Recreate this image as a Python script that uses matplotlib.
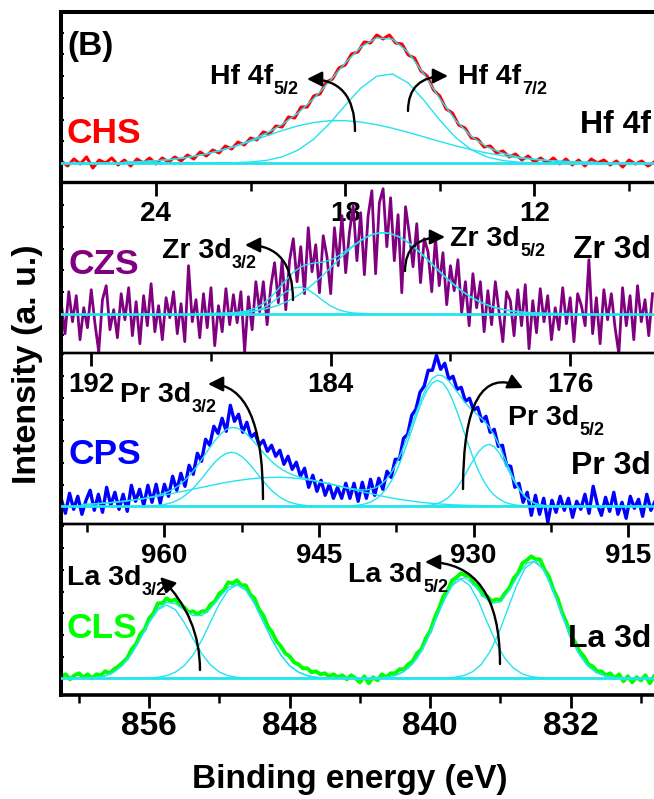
import numpy as np
import matplotlib
matplotlib.use('Agg')
import matplotlib.pyplot as plt
from matplotlib.patches import FancyArrowPatch
from matplotlib.ticker import MultipleLocator

# ---------------- data (heights in a.u., baseline = 0) ----------------
# CHS  - Hf 4f
hf_raw_start, hf_raw_step = 27.0, 0.2
hf_raw = [2, -3, 4, -1, 6, -5, 3, 0, 5, -2, 3, -3, 4, 0, 5, -1, 5, 1, 6, 2,
          8, 4, 11, 7, 13, 10, 17, 14, 21, 18, 25, 23, 31, 29, 37, 36, 46, 45, 56, 56,
          67, 69, 81, 84, 95, 98, 109, 111, 121, 120, 128, 124, 128, 120, 119, 108, 105, 92, 87, 73,
          67, 54, 50, 38, 35, 25, 24, 16, 17, 10, 12, 6, 9, 3, 7, 1, 5, 0, 5, -1,
          4, -2, 3, -3, 4, 0, 3, -2, 2, -4, 3, -1, 2, -3, 1]
hf_fit_start, hf_fit_step = 25.0, 0.5
hf_f72 = [0, 0, 0, 0, 0, 0, 0.1, 0.3, 1.0, 2.6, 6.1, 12.8, 23.8, 39.3, 57.6, 75.1, 86.8, 89.0,
          80.0, 62.6, 42.8, 25.5, 13.2, 6.0, 2.4, 0.8, 0.3, 0.1, 0, 0, 0]
hf_f52 = [0.7, 1.3, 2.2, 3.6, 5.6, 8.4, 12.1, 16.5, 21.6, 27.1, 32.4, 37.1, 40.5, 42.3, 42.3,
          40.9, 38.3, 34.8, 30.6, 26.1, 21.5, 17.2, 13.3, 10.0, 7.2, 5.1, 3.5, 2.3, 1.5, 0.9, 0.5]
hf_env = [0.7, 1.3, 2.2, 3.6, 5.6, 8.4, 12.2, 16.8, 22.6, 29.7, 38.5, 49.9, 64.3, 81.6, 99.9,
          116.0, 125.1, 123.8, 110.6, 88.7, 64.3, 42.7, 26.5, 16.0, 9.6, 5.9, 3.8, 2.4, 1.5, 0.9, 0.5]

# CZS  - Zr 3d
zr_raw_start, zr_raw_step = 193.0, 0.125
zr_raw = [10, -20, 22, -8, 18, -26, 6, -14, 24, -10,
          -38, 14, 28, -16, 4, -24, 20, -6, 26, -22,
          12, -30, 18, -12, 30, -18, 8, -26, 16, -4,
          22, -20, 10, -28, 48, -8, 14, -24, 20, -14,
          26, -32, 8, -18, 25, -11, 19, -9, 22, -38,
          17, -16, 32, 2, 32, -11, 27, 51, 11, 53,
          4, 53, 75, 32, 67, 20, 86, 42, 69, 21,
          78, 57, 20, 86, 48, 98, 41, 81, 108, 53,
          101, 39, 98, 123, 40, 111, 125, 67, 116, 53,
          99, 21, 107, 80, 47, 90, 31, 75, 62, 22,
          76, 28, 61, 9, 48, 23, 54, 1, 32, -12,
          40, 6, 32, -18, 23, -11, 32, 1, -28, 22,
          13, -22, 24, -12, 29, -35, 13, -19, 25, -8,
          18, -26, 6, -16, 26, -10, 16, -28, 20, 8,
          -12, 54, -20, 16, -30, 24, -6, 20, -14, -40,
          26, -12, 18, -26, 28, -8, 14, -22, 20]
zr_fit_start, zr_fit_step = 188.5, 0.25
zr_f52 = [0.1, 0.1, 0.2, 0.3, 0.5, 0.8, 1.3, 2.0, 2.9, 4.3, 6.1, 8.5, 11.6, 15.5, 20.2, 25.7,
          32.0, 38.8, 46.1, 53.6, 60.8, 67.4, 73.0, 77.4, 80.1, 81.0, 80.1, 77.4, 73.0, 67.4,
          60.8, 53.6, 46.1, 38.8, 32.0, 25.7, 20.2, 15.5, 11.6, 8.5, 6.1, 4.3, 2.9, 2.0, 1.3,
          0.8, 0.5, 0.3, 0.2, 0.1, 0.1]
zr_env = [0.1, 0.1, 0.2, 0.3, 0.5, 1.0, 1.8, 3.3, 5.8, 10.2, 16.6, 24.7, 33.5, 41.3, 46.8, 49.6,
          50.8, 51.7, 53.8, 57.7, 62.7, 68.1, 73.3, 77.5, 80.1, 81.0, 80.1, 77.4, 73.0, 67.4,
          60.8, 53.6, 46.1, 38.8, 32.0, 25.7, 20.2, 15.5, 11.6, 8.5, 6.1, 4.3, 2.9, 2.0, 1.3,
          0.8, 0.5, 0.3, 0.2, 0.1, 0.1]
zr_f32_start = 187.5
zr_f32 = [0, 0.2, 0.5, 1.3, 2.9, 5.9, 10.5, 16.2, 21.9, 25.8, 26.6, 23.9, 18.8, 12.9, 7.7,
          4.1, 1.9, 0.7, 0.3, 0.1]

# CPS  - Pr 3d
pr_raw_start, pr_raw_step = 970.0, 0.4
pr_raw = [7, -7, 13, -3, 10, -8, 6, 16, -4, 12,
          -6, 19, 1, 14, -3, 12, -5, 21, 5, 17,
          1, 21, 4, 22, 3, 22, 10, 30, 16, 33,
          20, 41, 32, 53, 45, 67, 61, 80, 73, 88,
          75, 101, 85, 92, 74, 84, 69, 73, 61, 66,
          55, 61, 50, 56, 42, 50, 37, 44, 30, 38,
          19, 31, 15, 26, 11, 22, 8, 19, 8, 23,
          8, 23, 5, 24, 8, 27, 11, 28, 17, 35,
          29, 47, 47, 68, 72, 91, 97, 114, 120, 136,
          136, 151, 137, 143, 127, 130, 117, 119, 105, 108,
          96, 99, 85, 90, 74, 77, 60, 61, 41, 40,
          19, 23, 4, 14, -9, 11, -8, 8, -16, 6,
          -6, 10, -4, 8, -11, 5, -3, 12, -7, 20,
          2, -9, 9, -5, 14, -8, 4, -12, 10, -2,
          7, -10, 12, -4, 5]
pr_c1_start = 961.5
pr_c1 = [0.3, 0.6, 1.1, 1.8, 3.0, 4.8, 7.3, 10.7, 15.0, 20.3, 26.3, 32.8, 39.2, 45.1, 49.8,
         52.9, 54.0, 52.9, 49.8, 45.1, 39.2, 32.8, 26.3, 20.3, 15.0, 10.7, 7.3, 4.8, 3.0,
         1.8, 1.1, 0.6, 0.3]
pr_c2_start = 968.0
pr_c2 = [1.7, 2.3, 3.0, 3.9, 5.0, 6.3, 7.7, 9.4, 11.3, 13.3, 15.4, 17.6, 19.8, 21.9, 23.9,
         25.6, 27.0, 28.1, 28.8, 29.0, 28.7, 27.8, 26.4, 24.6, 22.5, 20.1, 17.6, 15.1, 12.7,
         10.4, 8.4, 6.7, 5.2, 3.9, 2.9, 2.1, 1.5, 1.1, 0.7, 0.5, 0.3, 0.2, 0.1,
         0, 0, 0, 0, 0, 0, 0, 0, 0, 0]
pr_c3_start = 942.0
pr_c3 = [0.4, 0.8, 1.4, 2.5, 4.3, 7.1, 11.2, 17.0, 24.9, 35.0, 47.3, 61.4, 76.5, 91.5, 105.2,
         116.3, 123.5, 126.0, 123.5, 116.3, 105.2, 91.5, 76.5, 61.4, 47.3, 35.0, 24.9, 17.0,
         11.2, 7.1, 4.3, 2.5, 1.4, 0.8, 0.4]
pr_c4_start = 935.0
pr_c4 = [0.3, 0.7, 1.4, 2.7, 5.0, 8.4, 13.4, 20.2, 28.4, 37.6, 46.8, 54.7, 60.1, 62.0, 59.6,
         53.1, 43.8, 33.4, 23.6, 15.4, 9.4, 5.3, 2.7, 1.3, 0.6, 0.2, 0.1]
pr_env_start = 968.0
pr_env = [1.7, 2.0, 2.3, 2.6, 3.0, 3.4, 3.9, 4.4, 5.0, 5.6, 6.3, 7.0, 7.8, 8.8, 10.0, 11.4,
          13.1, 15.3, 18.1, 21.6, 26.1, 31.5, 37.9, 45.0, 52.6, 60.0, 67.0, 72.7, 76.8, 78.8,
          78.5, 76.1, 72.1, 66.8, 60.9, 54.8, 49.1, 43.9, 39.7, 36.2, 33.5, 31.3, 29.6, 28.2,
          27.0, 25.8, 24.6, 23.6, 22.5, 21.3, 20.1, 18.9, 18.0, 17.2, 16.5, 16.4, 17.0, 18.7,
          21.6, 26.4, 33.3, 42.6, 54.0, 67.4, 81.7, 96.1, 109.4, 120.4, 127.8, 131.2, 130.6,
          126.5, 120.1, 113.0, 106.0, 99.9, 94.8, 90.3, 85.5, 79.4, 71.1, 60.5, 48.3, 36.1,
          25.1, 16.2, 9.8, 5.3, 2.7, 1.3, 0.6, 0.2, 0.1, 0, 0]

# CLS  - La 3d
la_raw_start, la_raw_step = 861.0, 0.25
la_raw = [2, 4, -1, 3, 5, 1, 4, 0, 4, 3,
          7, 5, 9, 12, 16, 20, 29, 34, 44, 49,
          60, 65, 75, 75, 80, 77, 79, 73, 71, 66,
          67, 64, 67, 67, 74, 77, 85, 88, 96, 95,
          98, 93, 93, 84, 80, 69, 63, 52, 46, 37,
          32, 25, 22, 16, 14, 10, 10, 6, 7, 4,
          5, 2, 4, 1, 3, -1, 3, 0, -4, 2,
          -5, 1, -2, 4, 1, 5, 5, 9, 9, 14,
          17, 25, 29, 40, 47, 60, 70, 82, 88, 98,
          101, 105, 103, 102, 94, 92, 83, 82, 77, 79,
          78, 85, 90, 100, 105, 115, 118, 122, 119, 119,
          109, 102, 89, 80, 66, 56, 43, 36, 27, 22,
          14, 12, 7, 7, 3, 5, 0, 4, -3, 2,
          -4, 1, -2, 3, -5, 2]
la_p1_start = 859.5
la_p1 = [0.3, 0.9, 2.5, 6.3, 13.2, 24.5, 39.6, 55.7, 68.5, 73.3, 68.5, 55.7, 39.6, 24.5,
         13.2, 6.3, 2.5, 0.9, 0.3]
la_p2_start = 856.0
la_p2 = [0.4, 1.0, 2.6, 6.2, 12.6, 23.2, 38.3, 56.6, 74.6, 88.3, 93.3, 88.3, 74.6, 56.6,
         38.3, 23.2, 12.6, 6.2, 2.6, 1.0, 0.4]
la_p3_start = 843.25
la_p3 = [0.2, 0.6, 1.7, 4.4, 10.0, 19.9, 35.6, 55.8, 76.9, 92.8, 99.0, 92.8, 76.9, 55.8,
         35.6, 19.9, 10.0, 4.4, 1.7, 0.6, 0.2]
la_p4_start = 839.1
la_p4 = [0.3, 1.0, 2.6, 6.4, 13.7, 26.5, 45.0, 68.6, 92.0, 110.2, 116.7, 110.2, 92.0, 68.6,
         45.0, 26.5, 13.7, 6.4, 2.6, 1.0, 0.3]
la_env_start = 860.0
la_env = [0.1, 0.3, 0.9, 2.5, 6.3, 13.2, 24.5, 39.7, 56.1, 69.5, 75.9, 74.7, 68.3, 62.8, 62.8,
          69.8, 80.9, 90.8, 94.2, 88.6, 74.7, 56.6, 38.3, 23.2, 12.6, 6.2, 2.6, 1.0, 0.4, 0.1,
          0, 0, 0, 0.1, 0.3, 1.0, 2.7, 6.7, 14.5, 27.1, 45.3, 66.5, 86.1, 98.6, 100.5, 93.2,
          82.2, 74.9, 76.6, 87.7, 103.0, 115.1, 117.4, 107.4, 87.6, 63.5, 40.8, 23.5, 11.9,
          5.4, 2.1, 0.8, 0.2]

# ---------------- style ----------------
plt.rcParams['font.family'] = ['Liberation Sans', 'DejaVu Sans']
plt.rcParams['font.weight'] = 'bold'

W, H = 654, 799
fig = plt.figure(figsize=(W / 100, H / 100), dpi=100)
CYAN = '#22e4ef'


def fx(x):
    return x / W


def fy(y):
    return 1 - y / H


def grid(start, step, n):
    return start - step * np.arange(n)


def make_panel(top, bottom, xlim, ylim, majors, minor, first=False, last=False):
    ax = fig.add_axes([fx(61.3), fy(bottom), 1 - fx(61.3), (bottom - top) / H])
    ax.set_facecolor('none')
    ax.set_xlim(*xlim)
    ax.set_ylim(*ylim)
    ax.set_xticks(majors)
    ax.xaxis.set_minor_locator(MultipleLocator(minor))
    ax.yaxis.set_major_locator(MultipleLocator(21.7))
    ax.tick_params(axis='x', which='major', direction='out', length=9.5, width=2,
                   pad=2 if last else 4, labelsize=24 if last else 20)
    ax.tick_params(axis='x', which='minor', direction='out', length=6, width=1.8)
    ax.tick_params(axis='y', which='both', direction='in', length=2.5, width=1.5,
                   labelleft=False)
    for lab in ax.get_xticklabels():
        lab.set_fontweight('bold')
    ax.spines['right'].set_visible(False)
    ax.spines['left'].set_linewidth(2.9)
    ax.spines['top'].set_linewidth(2.9 if first else 1.7)
    ax.spines['bottom'].set_linewidth(2.6 if last else 1.7)
    ax.axhline(0, color=CYAN, lw=2.0, zorder=3)
    return ax


def raw(ax, start, step, vals, color, lw):
    ax.plot(grid(start, step, len(vals)), vals, color=color, lw=lw, zorder=2)


def fit(ax, start, step, vals):
    ax.plot(grid(start, step, len(vals)), vals, color=CYAN, lw=1.0, zorder=3)


def sub_label(ax, x, y, main, sub, size=20.5, subsize=13):
    t = fig.text(fx(x), fy(y), main, fontsize=size, fontweight='bold',
                 ha='left', va='baseline', zorder=6)
    ax.annotate(sub, xy=(1, 0), xycoords=t, xytext=(0.5, -3), textcoords='offset points',
                fontsize=subsize, fontweight='bold',
                ha='left', va='baseline', zorder=6, annotation_clip=False)


def arrow(x0, y0, x1, y1, cs):
    a = FancyArrowPatch((fx(x0), fy(y0)), (fx(x1), fy(y1)), transform=fig.transFigure,
                        connectionstyle=cs, arrowstyle='-|>,head_length=0.6,head_width=0.3',
                        mutation_scale=15, lw=1.7, color='black', shrinkA=0, shrinkB=0, zorder=6)
    fig.add_artist(a)


# ---------------- panels ----------------
ax1 = make_panel(11.7, 182.5, (27.0, 8.21), (-19.5, 151.3), [24, 18, 12], 3, first=True)
raw(ax1, hf_raw_start, hf_raw_step, hf_raw, '#ff0000', 2.2)
fit(ax1, hf_fit_start, hf_fit_step, hf_f52)
fit(ax1, hf_fit_start, hf_fit_step, hf_f72)
fit(ax1, hf_fit_start, hf_fit_step, hf_env)

ax2 = make_panel(182.5, 353.3, (193.0, 173.2), (-39.6, 131.2), [192, 184, 176], 4)
raw(ax2, zr_raw_start, zr_raw_step, zr_raw, '#800080', 2.0)
fit(ax2, zr_f32_start, zr_fit_step, zr_f32)
fit(ax2, zr_fit_start, zr_fit_step, zr_f52)
fit(ax2, zr_fit_start, zr_fit_step, zr_env)

ax3 = make_panel(353.3, 524.1, (970.0, 912.5), (-17.8, 153.0), [960, 945, 930, 915], 7.5)
raw(ax3, pr_raw_start, pr_raw_step, pr_raw, '#0000ff', 2.4)
fit(ax3, pr_c1_start, 0.5, pr_c1)
fit(ax3, pr_c2_start, 1.0, pr_c2)
fit(ax3, pr_c3_start, 0.5, pr_c3)
fit(ax3, pr_c4_start, 0.5, pr_c4)
fit(ax3, pr_env_start, 0.5, pr_env)

ax4 = make_panel(524.1, 695.0, (861.0, 827.26), (-16.7, 154.2), [856, 848, 840, 832], 4, last=True)
raw(ax4, la_raw_start, la_raw_step, la_raw, '#00ff00', 2.8)
fit(ax4, la_p1_start, 0.5, la_p1)
fit(ax4, la_p2_start, 0.5, la_p2)
fit(ax4, la_p3_start, 0.5, la_p3)
fit(ax4, la_p4_start, 0.5, la_p4)
fit(ax4, la_env_start, 0.5, la_env)

# ---------------- texts ----------------
fig.text(fx(67), fy(46), '(B)', fontsize=24, fontweight='bold', ha='left', va='center')

for name, x, y, c in [('CHS', 66, 143, '#ff0000'), ('CZS', 68, 274, '#800080'),
                      ('CPS', 69, 464, '#0000ff'), ('CLS', 66, 638, '#00ff00')]:
    fig.text(fx(x), fy(y), name, fontsize=25.5, fontweight='bold',
             color=c, ha='left', va='baseline', zorder=6)

for name, y in [('Hf 4f', 133), ('Zr 3d', 258), ('Pr 3d', 474), ('La 3d', 647)]:
    fig.text(fx(651), fy(y), name, fontsize=23, fontweight='bold',
             ha='right', va='baseline', zorder=6)

sub_label(ax1, 210, 84.3, 'Hf 4f', '5/2')
sub_label(ax1, 458, 84, 'Hf 4f', '7/2')
sub_label(ax2, 161.7, 258, 'Zr 3d', '3/2')
sub_label(ax2, 450, 246, 'Zr 3d', '5/2')
sub_label(ax3, 120, 402, 'Pr 3d', '3/2')
sub_label(ax3, 508, 425.3, 'Pr 3d', '5/2')
sub_label(ax4, 66.7, 585, 'La 3d', '3/2')
sub_label(ax4, 348, 582, 'La 3d', '5/2')

arrow(355, 131, 307, 79, 'angle3,angleA=90,angleB=0')
arrow(408, 111, 448, 76, 'angle3,angleA=90,angleB=0')
arrow(293, 300, 245, 245, 'angle3,angleA=90,angleB=0')
arrow(405, 271, 445, 237, 'angle3,angleA=90,angleB=0')
arrow(263, 499, 208, 384, 'angle3,angleA=90,angleB=0')
arrow(463, 489, 523, 388, 'angle3,angleA=90,angleB=-25')
arrow(200, 670, 160, 577, 'angle3,angleA=90,angleB=135')
arrow(500, 664, 425, 562, 'angle3,angleA=90,angleB=0')

fig.text(fx(350), fy(788), 'Binding energy (eV)', fontsize=24, fontweight='bold',
         ha='center', va='baseline')
fig.text(fx(27.5), fy(364), 'Intensity (a. u.)', fontsize=24.5, fontweight='bold',
         ha='center', va='center', rotation=90)

fig.savefig('out.png', dpi=100)
